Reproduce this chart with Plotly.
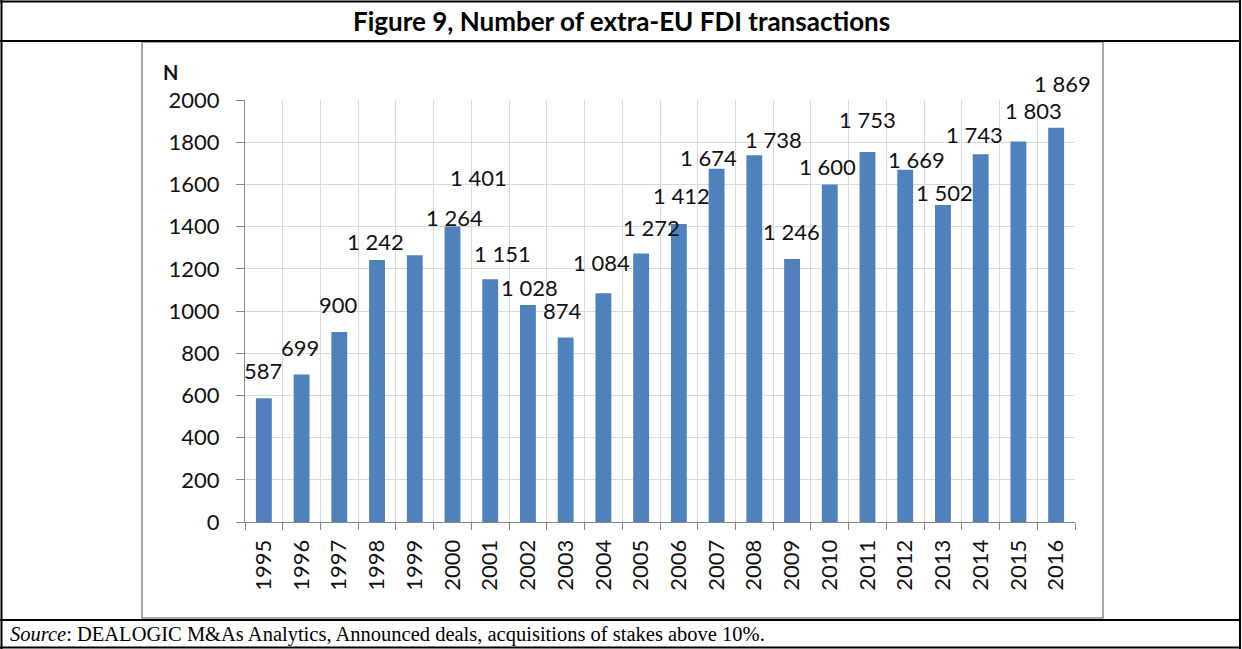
import plotly.graph_objects as go

W, H = 1242, 649

years = ["1995", "1996", "1997", "1998", "1999", "2000", "2001", "2002", "2003", "2004", "2005",
         "2006", "2007", "2008", "2009", "2010", "2011", "2012", "2013", "2014", "2015", "2016"]
values = [587, 699, 900, 1242, 1264, 1401, 1151, 1028, 874, 1084, 1272,
          1412, 1674, 1738, 1246, 1600, 1753, 1669, 1502, 1743, 1803, 1869]
y_ticks = [0, 200, 400, 600, 800, 1000, 1200, 1400, 1600, 1800, 2000]

# hand-placed label nudges (pixels) as in the original chart
label_dx = [-1, -2, -1, -2, 40, 26, 12, 2, -3, -2, 10, 3, -8, 19, -1, -2, 0, 11, 2, -6, 15, 6]
label_dy = [28, 27, 28, 18, 38, 49, 26, 18, 27, 31, 26, 29, 11, 16, 28, 18, 33, 10, 13, 20, 31, 44]

title_text = "Figure 9, Number of extra-EU FDI transactions"
source_text = "<i>Source</i>: DEALOGIC M&amp;As Analytics, Announced deals, acquisitions of stakes above 10%."

SANS = "Lato, Calibri, Arial, sans-serif"
SERIF = "Liberation Serif, Times New Roman, serif"
GRID = "#d9d9d9"
AXIS = "#868686"

def px(x):
    return x / W

def py(y):
    return 1 - y / H

fig = go.Figure()
fig.add_trace(go.Bar(x=years, y=values, marker=dict(color="#4F81BD", line=dict(width=0)),
                     hoverinfo="x+y"))

annotations = []
for i, (v, dx, dy) in enumerate(zip(values, label_dx, label_dy)):
    txt = f"{v:,}".replace(",", " ")
    annotations.append(dict(x=i, y=v, xref="x", yref="y", text=txt, showarrow=False,
                            xanchor="center", yanchor="middle", xshift=dx, yshift=dy,
                            font=dict(family=SANS, size=22, color="#111111")))

annotations.append(dict(x=px(170), y=py(72), xref="paper", yref="paper", text="<b>N</b>",
                        showarrow=False, xanchor="center", yanchor="middle",
                        font=dict(family=SANS, size=20, color="#111111")))
annotations.append(dict(x=0.5, y=py(21), xref="paper", yref="paper", text=f"<b>{title_text}</b>",
                        showarrow=False, xanchor="center", yanchor="middle",
                        font=dict(family=SANS, size=26, color="#000000")))
annotations.append(dict(x=px(8), y=py(634), xref="paper", yref="paper", text=source_text,
                        showarrow=False, xanchor="left", yanchor="middle",
                        font=dict(family=SERIF, size=20.5, color="#000000")))

shapes = []
# chart border
shapes.append(dict(type="rect", xref="paper", yref="paper", x0=px(142), x1=px(1103),
                   y0=py(618), y1=py(42), line=dict(color="#8c8c8c", width=1.5)))
# table lines
for yy in [1.5, 41, 620, 647.5]:
    shapes.append(dict(type="line", xref="paper", yref="paper", x0=px(0), x1=px(1241),
                       y0=py(yy), y1=py(yy), line=dict(color="#000000", width=2)))
for xx in [1.5, 1240]:
    shapes.append(dict(type="line", xref="paper", yref="paper", x0=px(xx), x1=px(xx),
                       y0=py(0), y1=py(649), line=dict(color="#000000", width=2)))

fig.update_layout(
    width=W, height=H,
    margin=dict(l=0, r=0, t=0, b=0, pad=0),
    autosize=False,
    paper_bgcolor="white", plot_bgcolor="white",
    showlegend=False,
    bargap=0.58,
    annotations=annotations,
    shapes=shapes,
    xaxis=dict(domain=[px(245), px(1075)], type="category", range=[-0.5, len(years) - 0.5],
               autorange=False, automargin=False, tickson="boundaries",
               showgrid=True, gridcolor=GRID, gridwidth=1,
               ticks="outside", ticklen=7, tickcolor=AXIS, tickwidth=1,
               showline=True, linecolor=AXIS, linewidth=1,
               tickangle=-90, ticklabelstandoff=8,
               tickfont=dict(family=SANS, size=22, color="#111111"),
               fixedrange=True),
    yaxis=dict(domain=[py(522), py(100)], range=[0, 2000], autorange=False, automargin=False,
               tickvals=y_ticks,
               showgrid=True, gridcolor=GRID, gridwidth=1,
               ticks="outside", ticklen=8, tickcolor=AXIS, tickwidth=1,
               showline=True, linecolor=AXIS, linewidth=1, zeroline=False,
               ticklabelstandoff=12,
               tickfont=dict(family=SANS, size=22, color="#111111"),
               fixedrange=True),
)

fig.write_html(
    "out.html",
    config={"displayModeBar": False, "responsive": False},
    post_script="document.body.style.margin='0px';document.body.style.overflow='hidden';",
)
